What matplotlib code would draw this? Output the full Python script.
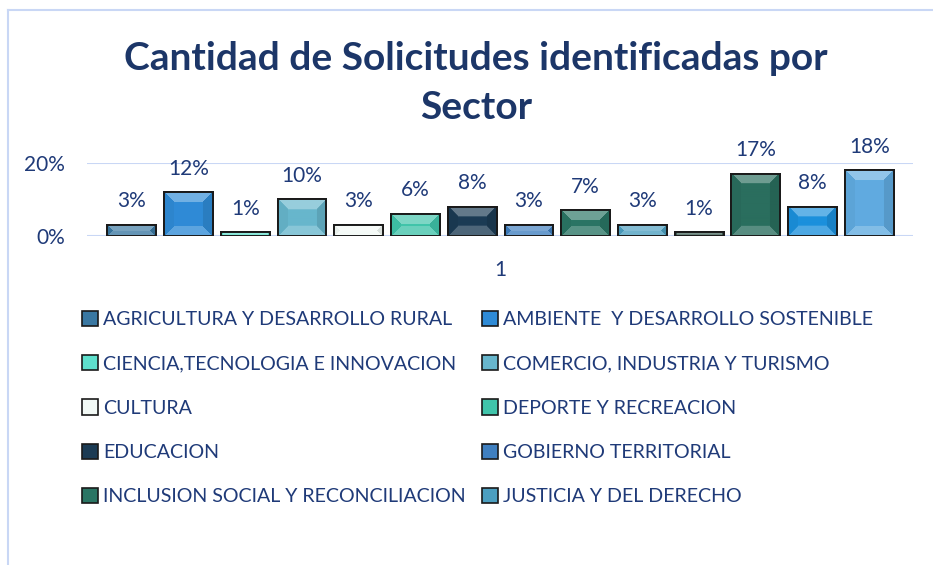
import matplotlib.pyplot as plt
import matplotlib.colors as mcolors
from matplotlib.patches import Patch
from matplotlib.lines import Line2D
import numpy as np

plt.rcParams['font.family'] = ['Lato', 'DejaVu Sans']

sectors = ['AGRICULTURA Y DESARROLLO RURAL', 'AMBIENTE  Y DESARROLLO SOSTENIBLE',
           'CIENCIA,TECNOLOGIA E INNOVACION', 'COMERCIO, INDUSTRIA Y TURISMO',
           'CULTURA', 'DEPORTE Y RECREACION', 'EDUCACION', 'GOBIERNO TERRITORIAL',
           'INCLUSION SOCIAL Y RECONCILIACION', 'JUSTICIA Y DEL DERECHO']
# 14 series in the single category "1"; only the first 10 fit in the legend box
shares = [0.03, 0.12, 0.01, 0.10, 0.03, 0.06, 0.08, 0.03, 0.07, 0.03, 0.01, 0.17, 0.08, 0.18]
share_labels = ['3%', '12%', '1%', '10%', '3%', '6%', '8%', '3%', '7%', '3%', '1%', '17%', '8%', '18%']
bar_colors = ['#3a78a2', '#2f8bd6', '#5ee0cc', '#67b6cc', '#f2f9f5', '#40c4aa', '#1b3b54',
              '#3f7fbf', '#2a7564', '#4c9fc0', '#3e5f55', '#2a6e5e', '#1b90dc', '#60abe0']
category = '1'
y_ticks = [0, 0.20]
y_tick_labels = ['0%', '20%']

navy = '#1f3a78'
grid_blue = '#c9d7f5'

W, H = 933, 565
fig = plt.figure(figsize=(W / 100, H / 100), dpi=100)
fig.patch.set_facecolor('white')

# light frame on the top and left edges
fig.add_artist(Line2D([8 / W, 8 / W], [0, 1 - 10 / H], color=grid_blue, lw=1.5))
fig.add_artist(Line2D([8 / W, 1], [1 - 10 / H, 1 - 10 / H], color=grid_blue, lw=1.5))

ax = fig.add_axes([87 / W, 1 - 236 / H, 826 / W, 73 / H])
ax.set_ylim(0, 0.20)
n = len(shares)
pos = np.arange(n)
ax.set_xlim(-0.79, n - 1 + 0.77)
for s in ax.spines.values():
    s.set_visible(False)
ax.set_yticks(y_ticks)
ax.set_yticklabels(y_tick_labels, fontsize=15, color=navy)
ax.tick_params(axis='y', length=0, pad=16)
ax.set_xticks([pos.mean()])
ax.set_xticklabels([category], fontsize=15, color=navy)
ax.tick_params(axis='x', length=0, pad=17.5)
for yv in y_ticks:
    ax.axhline(yv, color=grid_blue, lw=1.5, zorder=0)


def lighten(c, f):
    r = np.array(mcolors.to_rgb(c))
    return tuple(r + (1 - r) * f)


def darken(c, f):
    r = np.array(mcolors.to_rgb(c))
    return tuple(r * (1 - f))


bars = ax.bar(pos, shares, width=0.86, color=bar_colors, edgecolor='#1a1a1a',
              linewidth=1.4, zorder=2)

# pillow bevel: facets along each edge, shaded per side
px_per_x = 826 / (ax.get_xlim()[1] - ax.get_xlim()[0])
px_per_y = 73 / 0.20
bevel = 10
for b, c in zip(bars, bar_colors):
    x0, w, h = b.get_x(), b.get_width(), b.get_height()
    wp, hp = int(round(w * px_per_x)), max(int(round(h * px_per_y)), 2)
    u, v = np.meshgrid(np.arange(wp) + 0.5, np.arange(hp) + 0.5)
    dl, dr, db, dt = u, wp - u, v, hp - v
    d = np.stack([dl, dr, dt, db])
    facet = d.argmin(axis=0)
    flat = d.min(axis=0) > bevel
    shades = [darken(c, 0.04), darken(c, 0.10), lighten(c, 0.32), lighten(c, 0.22)]
    img = np.zeros((hp, wp, 3))
    for k in range(4):
        img[facet == k] = shades[k]
    img[flat] = mcolors.to_rgb(c)
    im = ax.imshow(img, extent=[x0, x0 + w, 0, h], origin='lower', aspect='auto',
                   interpolation='bilinear', zorder=2.5)
    im.set_clip_path(b)
    ax.bar(x0 + w / 2, h, width=w, color='none', edgecolor='#1a1a1a', linewidth=1.4, zorder=3)

ax.set_xlim(-0.79, n - 1 + 0.77)
ax.set_ylim(0, 0.20)

for p, v, lab in zip(pos, shares, share_labels):
    ax.annotate(lab, (p, v), xytext=(0, 17), textcoords='offset points',
                ha='center', va='center', fontsize=15, color=navy, annotation_clip=False)

fig.text(476 / W, 1 - 58 / H, 'Cantidad de Solicitudes identificadas por', ha='center', va='center',
         fontsize=28, fontweight='bold', color='#1c3668')
fig.text(476 / W, 1 - 108 / H, 'Sector', ha='center', va='center',
         fontsize=28, fontweight='bold', color='#1c3668')

handles = [Patch(facecolor=bar_colors[i], edgecolor='#1a1a1a', linewidth=1.2)
           for i in range(len(sectors))]
leg_kw = dict(frameon=False, fontsize=14.1, labelcolor=navy, handlelength=0.82,
              handleheight=0.82, handletextpad=0.25, labelspacing=1.37, borderpad=0,
              borderaxespad=0)
left = [0, 2, 4, 6, 8]
right = [1, 3, 5, 7, 9]
leg1 = fig.legend([handles[i] for i in left], [sectors[i] for i in left],
                  loc='upper left', bbox_to_anchor=(82 / W, 1 - 311 / H), **leg_kw)
fig.legend([handles[i] for i in right], [sectors[i] for i in right],
           loc='upper left', bbox_to_anchor=(482 / W, 1 - 311 / H), **leg_kw)

fig.savefig('out.png', dpi=100)
